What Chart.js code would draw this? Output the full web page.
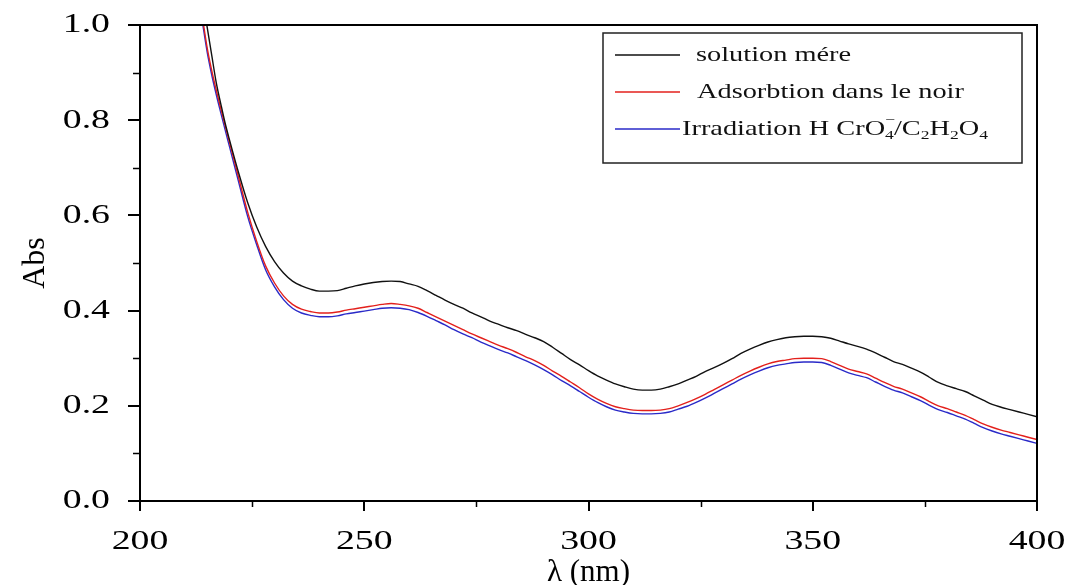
<!DOCTYPE html>
<html>
<head>
<meta charset="utf-8">
<title>Spectres UV-Vis</title>
<script src="https://cdn.jsdelivr.net/npm/chart.js@4.4.1/dist/chart.umd.min.js"></script>
<style>
  html, body { margin: 0; padding: 0; background: #fff; }
  #wrap { width: 1072px; height: 585px; }
</style>
</head>
<body>
<div id="wrap"><canvas id="spectra" width="1072" height="585"></canvas></div>
<script>
// wavelengths (nm)
var wavelengths = [212, 214, 215, 216, 217, 218, 219, 220,
    222, 224, 226, 228, 230, 232, 234, 236, 238, 240,
    242, 244, 246, 248, 250, 252, 254, 256, 258, 260,
    262, 264, 266, 268, 270, 272, 274, 276, 278, 280,
    282, 284, 286, 288, 290, 292, 294, 296, 298, 300,
    302, 304, 306, 308, 310, 312, 314, 316, 318, 320,
    322, 324, 326, 328, 330, 332, 334, 336, 338, 340,
    342, 344, 346, 348, 350, 352, 354, 356, 358, 360,
    362, 364, 366, 368, 370, 372, 374, 376, 378, 380,
    382, 384, 386, 388, 390, 392, 394, 396, 398, 400];

// solution mere
var absMere = [1.166, 1.051, 0.994, 0.936, 0.879, 0.835, 0.793, 0.757,
    0.689, 0.627, 0.576, 0.535, 0.503, 0.479, 0.462, 0.452, 0.445, 0.441,
    0.441, 0.442, 0.447, 0.452, 0.456, 0.459, 0.461, 0.462, 0.461, 0.456,
    0.451, 0.442, 0.432, 0.422, 0.413, 0.405, 0.395, 0.387, 0.378, 0.371,
    0.364, 0.358, 0.35, 0.343, 0.335, 0.323, 0.31, 0.297, 0.286, 0.274,
    0.263, 0.254, 0.246, 0.24, 0.235, 0.233, 0.233, 0.235, 0.24, 0.246,
    0.254, 0.262, 0.272, 0.28, 0.289, 0.299, 0.31, 0.319, 0.327, 0.334,
    0.339, 0.343, 0.345, 0.346, 0.346, 0.345, 0.342, 0.336, 0.33, 0.325,
    0.319, 0.311, 0.302, 0.293, 0.287, 0.279, 0.271, 0.26, 0.249, 0.242,
    0.236, 0.23, 0.221, 0.212, 0.203, 0.197, 0.192, 0.187, 0.182, 0.177];

// adsorption dans le noir
var absNoir = [1.136, 1.011, 0.951, 0.904, 0.863, 0.825, 0.788, 0.752,
    0.679, 0.607, 0.546, 0.494, 0.458, 0.431, 0.413, 0.403, 0.398, 0.395,
    0.395, 0.397, 0.401, 0.404, 0.407, 0.41, 0.413, 0.415, 0.413, 0.41,
    0.405, 0.396, 0.387, 0.378, 0.369, 0.36, 0.351, 0.343, 0.335, 0.327,
    0.32, 0.312, 0.303, 0.295, 0.285, 0.273, 0.262, 0.25, 0.238, 0.225,
    0.214, 0.205, 0.198, 0.194, 0.191, 0.19, 0.19, 0.191, 0.194, 0.2,
    0.207, 0.215, 0.224, 0.234, 0.244, 0.254, 0.264, 0.273, 0.281, 0.288,
    0.293, 0.296, 0.299, 0.3, 0.3, 0.299, 0.293, 0.285, 0.277, 0.272,
    0.267, 0.258, 0.249, 0.241, 0.235, 0.227, 0.219, 0.209, 0.2, 0.194,
    0.187, 0.18, 0.171, 0.162, 0.155, 0.149, 0.144, 0.139, 0.134, 0.129];

// irradiation HCrO4- / C2H2O4
var absIrrad = [1.126, 1.001, 0.942, 0.895, 0.854, 0.816, 0.779, 0.743,
    0.67, 0.598, 0.539, 0.486, 0.45, 0.423, 0.405, 0.395, 0.39, 0.387,
    0.387, 0.389, 0.393, 0.396, 0.399, 0.402, 0.405, 0.406, 0.405, 0.402,
    0.396, 0.388, 0.379, 0.37, 0.36, 0.351, 0.343, 0.334, 0.326, 0.318,
    0.311, 0.303, 0.295, 0.286, 0.276, 0.265, 0.253, 0.242, 0.23, 0.218,
    0.207, 0.198, 0.191, 0.187, 0.184, 0.183, 0.183, 0.184, 0.187, 0.193,
    0.199, 0.207, 0.216, 0.226, 0.236, 0.246, 0.256, 0.265, 0.273, 0.28,
    0.285, 0.288, 0.291, 0.292, 0.292, 0.291, 0.285, 0.277, 0.269, 0.264,
    0.259, 0.25, 0.241, 0.233, 0.227, 0.219, 0.211, 0.201, 0.192, 0.186,
    0.179, 0.172, 0.163, 0.154, 0.147, 0.141, 0.136, 0.131, 0.126, 0.121];

var seriesLabels = ['solution mére', 'Adsorbtion dans le noir', 'Irradiation H CrO₄⁻/C₂H₂O₄'];
var seriesColors = ['#111111', '#e3201c', '#2a2ac8'];

var xMinorTicks = [225, 275, 325, 375];
var yMinorTicks = [0.1, 0.3, 0.5, 0.7, 0.9];

var SERIF = '"Liberation Serif", "Times New Roman", serif';
var STRETCH = 1.35;   // the source figure is widened horizontally

function toPoints(values) {
    return values.map(function(v, i) {
        return { x: wavelengths[i], y: v };
    });
}

// draws a label with unicode sub/superscripts as real small offset text
function drawRichText(ctx, text, x, y, size) {
    var SUB = { '₂': '2', '₄': '4' };
    var SUP = { '⁻': '−' };
    var cx = x, lastSubX = null, run = '';
    var big = size + 'px ' + SERIF;
    var small = Math.round(size * 0.6) + 'px ' + SERIF;

    function flush() {
        if (!run) return;
        ctx.font = big;
        ctx.fillText(run, cx, y);
        cx += ctx.measureText(run).width;
        run = '';
    }

    Array.from(text).forEach(function(ch) {
        if (SUB[ch]) {
            flush();
            ctx.font = small;
            ctx.fillText(SUB[ch], cx, y + size * 0.32);
            lastSubX = cx;
            cx += ctx.measureText(SUB[ch]).width;
        } else if (SUP[ch]) {
            flush();
            ctx.font = small;
            var sx = lastSubX !== null ? lastSubX : cx;
            ctx.fillText(SUP[ch], sx, y - size * 0.38);
            if (lastSubX === null) cx += ctx.measureText(SUP[ch]).width;
            lastSubX = null;
        } else {
            lastSubX = null;
            run += ch;
        }
    });
    flush();
}

function stretchedText(ctx, text, x, y, align) {
    ctx.save();
    ctx.translate(x, y);
    ctx.scale(STRETCH, 1);
    ctx.textAlign = align;
    ctx.fillText(text, 0, 0);
    ctx.restore();
}

var framePlugin = {
    id: 'frame',
    afterDraw: function(chart) {
        var ctx = chart.ctx;
        var a = chart.chartArea;
        var xs = chart.scales.x;
        var ys = chart.scales.y;

        ctx.save();
        ctx.strokeStyle = '#000';
        ctx.lineWidth = 2;
        ctx.strokeRect(a.left, a.top, a.right - a.left, a.bottom - a.top);

        // minor ticks
        ctx.lineWidth = 1.5;
        ctx.beginPath();
        xMinorTicks.forEach(function(v) {
            var px = Math.round(xs.getPixelForValue(v)) + 0.5;
            ctx.moveTo(px, a.bottom);
            ctx.lineTo(px, a.bottom + 6);
        });
        yMinorTicks.forEach(function(v) {
            var py = Math.round(ys.getPixelForValue(v)) + 0.5;
            ctx.moveTo(a.left, py);
            ctx.lineTo(a.left - 7, py);
        });
        ctx.stroke();

        // tick labels from the scales' own ticks
        ctx.fillStyle = '#000';
        ctx.font = '28px ' + SERIF;
        ctx.textBaseline = 'middle';
        ys.ticks.forEach(function(t) {
            stretchedText(ctx, t.label, a.left - 30, ys.getPixelForValue(t.value), 'right');
        });
        xs.ticks.forEach(function(t) {
            stretchedText(ctx, t.label, xs.getPixelForValue(t.value), a.bottom + 41, 'center');
        });

        // legend box
        var bx = a.left + 463, by = a.top + 8, bw = 419, bh = 130;
        ctx.fillStyle = '#fff';
        ctx.fillRect(bx, by, bw, bh);
        ctx.lineWidth = 1.5;
        ctx.strokeStyle = '#222';
        ctx.strokeRect(bx, by, bw, bh);

        var rowY = [by + 22, by + 59, by + 96];
        var textX = [bx + 93, bx + 94, bx + 79];
        chart.data.datasets.forEach(function(ds, i) {
            ctx.strokeStyle = ds.borderColor;
            ctx.lineWidth = 1.3;
            ctx.beginPath();
            ctx.moveTo(bx + 12, rowY[i]);
            ctx.lineTo(bx + 77, rowY[i]);
            ctx.stroke();

            ctx.save();
            ctx.translate(textX[i], rowY[i]);
            ctx.scale(STRETCH, 1);
            ctx.fillStyle = '#111';
            ctx.textBaseline = 'middle';
            ctx.textAlign = 'left';
            drawRichText(ctx, ds.label, 0, 0, 21);
            ctx.restore();
        });
        ctx.restore();
    }
};

var ctx = document.getElementById('spectra').getContext('2d');
new Chart(ctx, {
    type: 'line',
    data: {
        datasets: [absMere, absNoir, absIrrad].map(function(vals, i) {
            return {
                label: seriesLabels[i],
                data: toPoints(vals),
                borderColor: seriesColors[i],
                borderWidth: 1.4,
                pointRadius: 0,
                fill: false,
                cubicInterpolationMode: 'monotone'
            };
        })
    },
    options: {
        responsive: false,
        animation: false,
        events: [],
        layout: { padding: { top: 25, right: 35, left: 0, bottom: 0 } },
        plugins: {
            legend: { display: false },
            tooltip: { enabled: false }
        },
        scales: {
            x: {
                type: 'linear',
                min: 200,
                max: 400,
                afterFit: function(s) { s.height = 84; },
                ticks: {
                    display: false,
                    stepSize: 50
                },
                grid: {
                    drawOnChartArea: false,
                    tickLength: 10,
                    color: '#000',
                    lineWidth: 2
                },
                border: { display: true, color: '#000', width: 2 },
                title: {
                    display: true,
                    text: 'λ (nm)',
                    color: '#000',
                    font: { family: SERIF, size: 31, lineHeight: 0.8 },
                    padding: { top: 0, bottom: 0 }
                }
            },
            y: {
                type: 'linear',
                min: 0,
                max: 1,
                afterFit: function(s) { s.width = 140; },
                ticks: {
                    display: false,
                    stepSize: 0.2,
                    callback: function(v) { return v.toFixed(1); }
                },
                grid: {
                    drawOnChartArea: false,
                    tickLength: 12,
                    color: '#000',
                    lineWidth: 2
                },
                border: { display: true, color: '#000', width: 2 },
                title: {
                    display: true,
                    text: 'Abs',
                    color: '#000',
                    font: { family: SERIF, size: 32, lineHeight: 1.2 },
                    padding: { top: 16, bottom: 0 }
                }
            }
        }
    },
    plugins: [framePlugin]
});
</script>
</body>
</html>
